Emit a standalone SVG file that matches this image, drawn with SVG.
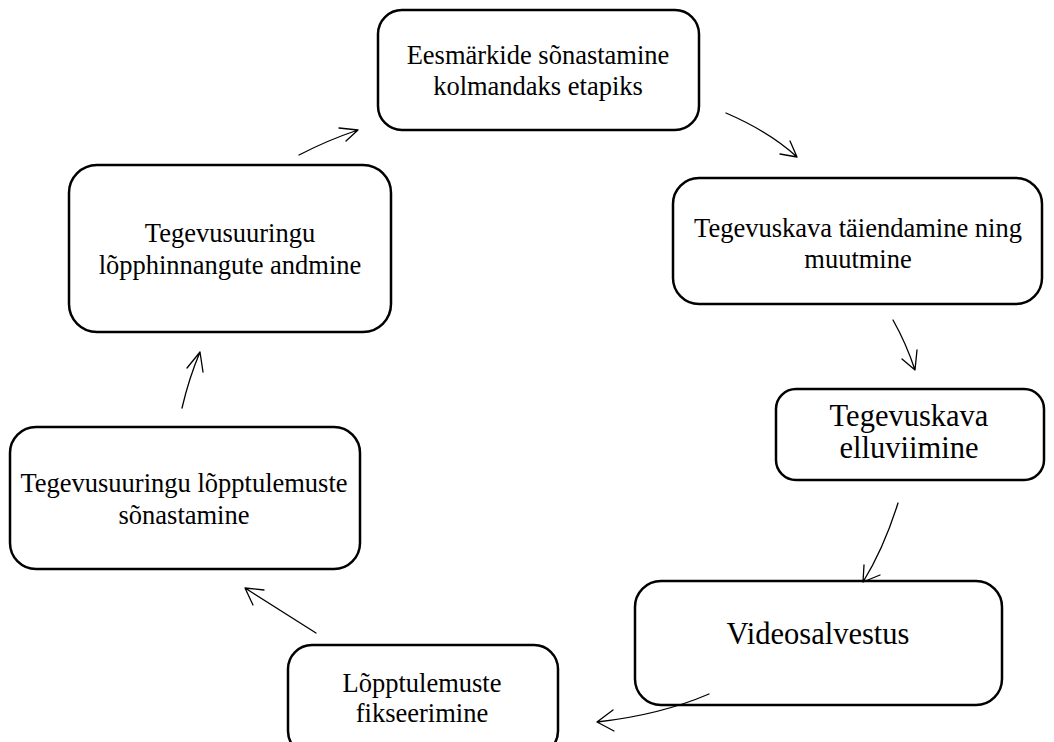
<svg xmlns="http://www.w3.org/2000/svg" width="1054" height="742" viewBox="0 0 1054 742">
<style>
.box{fill:#fff;stroke:#000;stroke-width:2.5}
.t{font-family:"Liberation Serif","Times New Roman",serif;font-size:26.5px;fill:#000;text-anchor:middle}
.l{font-size:30.5px}
.c{fill:none;stroke:#000;stroke-width:1.3;stroke-linecap:round;stroke-linejoin:round}
</style>
<rect width="1054" height="742" fill="#fff"/>
<g id="n1"><rect class="box" x="378" y="10" width="321" height="120" rx="24"/><text class="t" x="538" y="64">Eesmärkide sõnastamine</text><text class="t" x="538" y="95">kolmandaks etapiks</text></g>
<g id="n2"><rect class="box" x="673" y="178" width="369" height="126" rx="26"/><text class="t" x="858" y="237">Tegevuskava täiendamine ning</text><text class="t" x="858" y="268">muutmine</text></g>
<g id="n3"><rect class="box" x="776" y="389" width="268" height="91" rx="20"/><text class="t l" x="909" y="426">Tegevuskava</text><text class="t l" x="909" y="458">elluviimine</text></g>
<g id="n4"><rect class="box" x="635" y="581" width="367" height="124" rx="26"/><text class="t l" x="818" y="644">Videosalvestus</text></g>
<g id="n5"><rect class="box" x="288" y="645" width="270" height="110" rx="24"/><text class="t" x="422" y="692">Lõpptulemuste</text><text class="t" x="422" y="722">fikseerimine</text></g>
<g id="n6"><rect class="box" x="10" y="427" width="350" height="142" rx="26"/><text class="t" x="184" y="492">Tegevusuuringu lõpptulemuste</text><text class="t" x="184" y="524">sõnastamine</text></g>
<g id="n7"><rect class="box" x="69" y="165" width="322" height="167" rx="28"/><text class="t" x="230" y="242">Tegevusuuringu</text><text class="t" x="230" y="274">lõpphinnangute andmine</text></g>
<g id="connectors">
<path class="c" d="M299 155 Q328 140 358 130 M339 128 L358 130 L346 141"/>
<path class="c" d="M726 113 Q770 132 797 157 M790 141 L797 157 L780 154"/>
<path class="c" d="M893 320 Q906 343 915 370 M917 350 L915 370 L902 359"/>
<path class="c" d="M898 503 Q884 548 863 582 M864 565 L863 582 L880 575"/>
<path class="c" d="M709 694 Q660 715 597 722 M613 710 L597 722 L614 731"/>
<path class="c" d="M316 633 Q280 610 245 588 M264 590 L245 588 L253 605"/>
<path class="c" d="M182 408 Q189 378 200 352 M187 368 L200 352 L203 372"/>
</g>
</svg>
